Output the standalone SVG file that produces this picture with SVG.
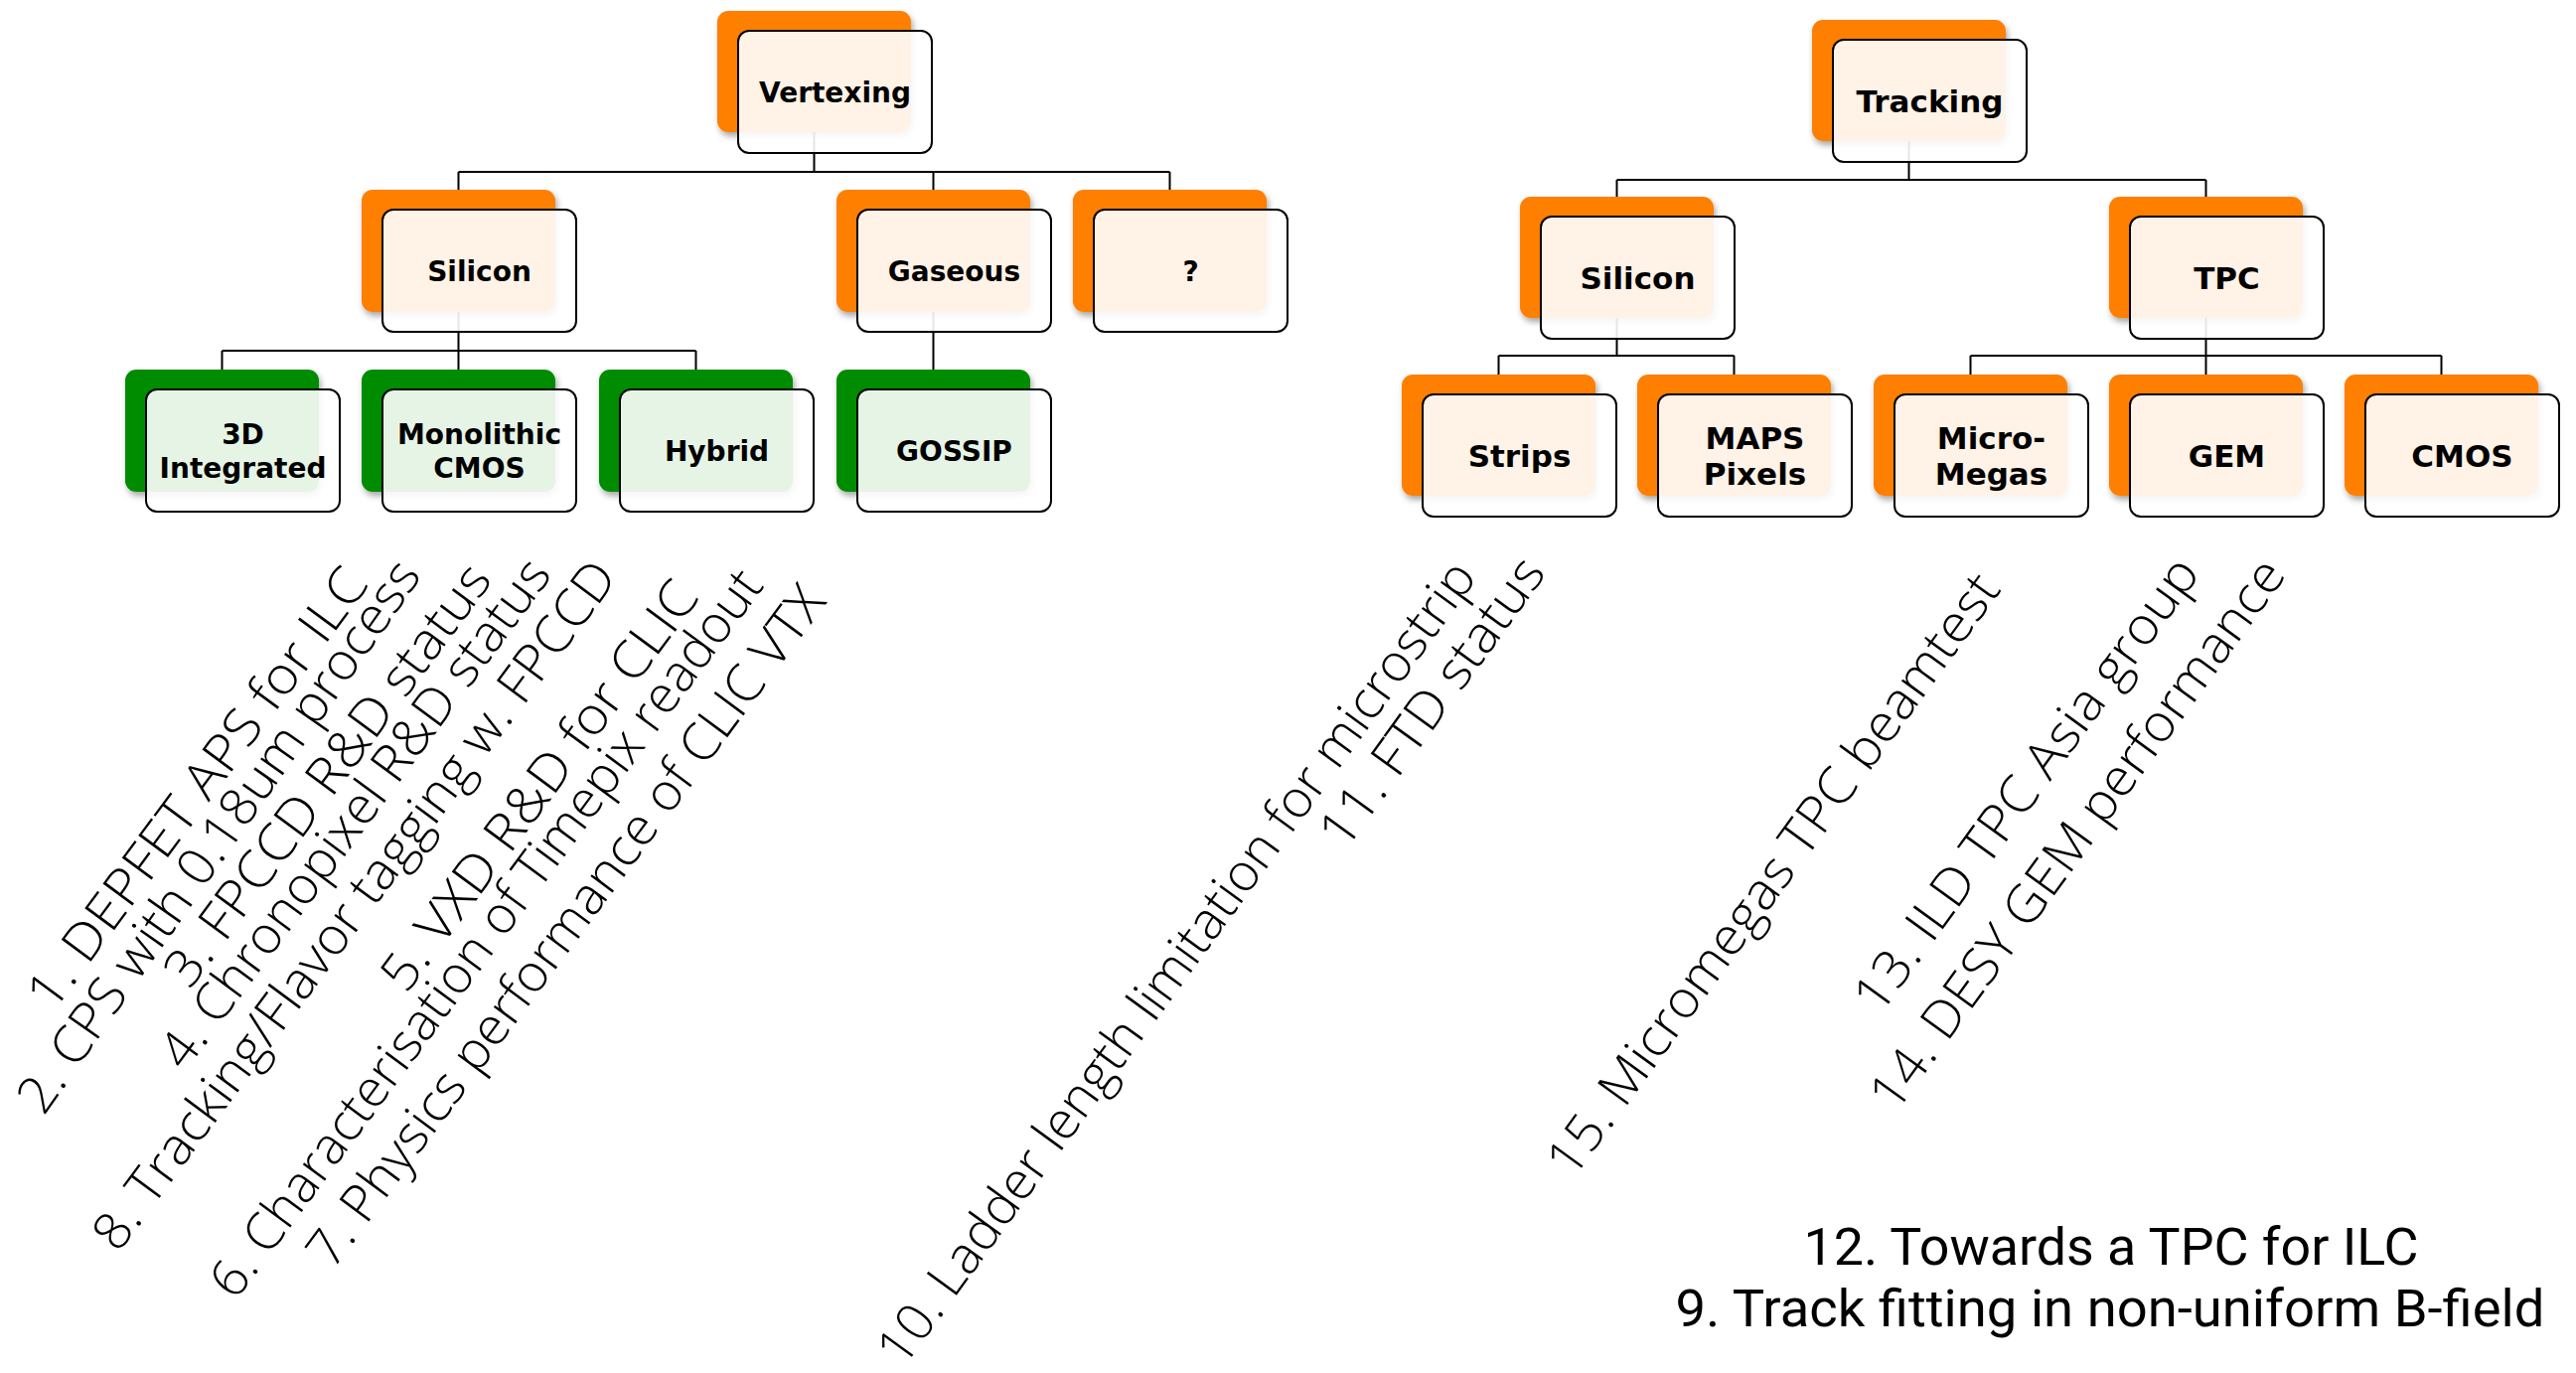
<svg xmlns="http://www.w3.org/2000/svg" width="2593" height="1382" viewBox="0 0 2593 1382">
<defs>
<style>
.bo{fill:#FF7F00}
.bg{fill:#008C00}
.front{fill:#FFFFFF;fill-opacity:0.9;stroke:#000;stroke-width:2}
.lbl{font-family:"DejaVu Sans","Verdana",sans-serif;font-weight:bold;font-size:28px;fill:#000;text-anchor:middle}
.lbr{font-family:"DejaVu Sans","Verdana",sans-serif;font-weight:bold;font-size:31px;fill:#000;text-anchor:middle}
.con{stroke:#000;stroke-width:2;fill:none}
.note{font-family:"Open Sans","Lato","Liberation Sans",sans-serif;font-weight:300;font-size:52px;fill:#000}
.note2{font-family:"Roboto","Liberation Sans",sans-serif;font-weight:400;font-size:51px;fill:#000;text-anchor:middle}
</style>
<filter id="sh" x="-10%" y="-10%" width="130%" height="130%">
<feDropShadow dx="2" dy="4" stdDeviation="3" flood-color="#000" flood-opacity="0.35"/>
</filter>
</defs>
<rect width="2593" height="1382" fill="#fff"/>

<g id="connectors">
<path class="con" d="M819.5 133V173M461.5 173H1177.5M461.5 173V191M939.5 173V191M1177.5 173V191"/>
<path class="con" d="M461.5 314V353M223.5 353H700.5M223.5 353V372M461.5 353V372M700.5 353V372M939.5 314V372"/>
<path class="con" d="M1921.5 142V181M1627.5 181H2220.5M1627.5 181V198M2220.5 181V198"/>
<path class="con" d="M1627.5 320V358M1508.5 358H1745.5M1508.5 358V377M1745.5 358V377"/>
<path class="con" d="M2220.5 320V358M1983.5 358H2457.5M1983.5 358V377M2220.5 358V377M2457.5 358V377"/>
</g>

<g id="vertexing"><rect class="bo" x="722" y="11" width="195" height="122" rx="11" filter="url(#sh)"/><rect class="front" x="743" y="31" width="195" height="123" rx="11"/><text class="lbl" x="840.5" y="103">Vertexing</text></g>
<g id="silicon-v"><rect class="bo" x="364" y="191" width="195" height="123" rx="11" filter="url(#sh)"/><rect class="front" x="385" y="211" width="195" height="123" rx="11"/><text class="lbl" x="482.5" y="283">Silicon</text></g>
<g id="gaseous"><rect class="bo" x="842" y="191" width="195" height="123" rx="11" filter="url(#sh)"/><rect class="front" x="863" y="211" width="195" height="123" rx="11"/><text class="lbl" x="960.5" y="283">Gaseous</text></g>
<g id="unknown"><rect class="bo" x="1080" y="191" width="195" height="123" rx="11" filter="url(#sh)"/><rect class="front" x="1101" y="211" width="195" height="123" rx="11"/><text class="lbl" x="1198.5" y="283">?</text></g>
<g id="3d-integrated"><rect class="bg" x="126" y="372" width="195" height="123" rx="11" filter="url(#sh)"/><rect class="front" x="147" y="392" width="195" height="123" rx="11"/><text class="lbl" x="244.5" y="446.5">3D</text><text class="lbl" x="244.5" y="480.5">Integrated</text></g>
<g id="monolithic-cmos"><rect class="bg" x="364" y="372" width="195" height="123" rx="11" filter="url(#sh)"/><rect class="front" x="385" y="392" width="195" height="123" rx="11"/><text class="lbl" x="482.5" y="446.5">Monolithic</text><text class="lbl" x="482.5" y="480.5">CMOS</text></g>
<g id="hybrid"><rect class="bg" x="603" y="372" width="195" height="123" rx="11" filter="url(#sh)"/><rect class="front" x="624" y="392" width="195" height="123" rx="11"/><text class="lbl" x="721.5" y="464">Hybrid</text></g>
<g id="gossip"><rect class="bg" x="842" y="372" width="195" height="123" rx="11" filter="url(#sh)"/><rect class="front" x="863" y="392" width="195" height="123" rx="11"/><text class="lbl" x="960.5" y="464">GOSSIP</text></g>

<g id="tracking"><rect class="bo" x="1824" y="20" width="195" height="122" rx="11" filter="url(#sh)"/><rect class="front" x="1845" y="40" width="195" height="123" rx="11"/><text class="lbr" x="1942.5" y="113">Tracking</text></g>
<g id="silicon-t"><rect class="bo" x="1530" y="198" width="195" height="122" rx="11" filter="url(#sh)"/><rect class="front" x="1551" y="218" width="195" height="123" rx="11"/><text class="lbr" x="1648.5" y="291">Silicon</text></g>
<g id="tpc"><rect class="bo" x="2123" y="198" width="195" height="122" rx="11" filter="url(#sh)"/><rect class="front" x="2144" y="218" width="195" height="123" rx="11"/><text class="lbr" x="2241.5" y="291">TPC</text></g>
<g id="strips"><rect class="bo" x="1411" y="377" width="195" height="122" rx="11" filter="url(#sh)"/><rect class="front" x="1432" y="397" width="195" height="123" rx="11"/><text class="lbr" x="1529.5" y="469.5">Strips</text></g>
<g id="maps-pixels"><rect class="bo" x="1648" y="377" width="195" height="122" rx="11" filter="url(#sh)"/><rect class="front" x="1669" y="397" width="195" height="123" rx="11"/><text class="lbr" x="1766.5" y="451.5">MAPS</text><text class="lbr" x="1766.5" y="487.5">Pixels</text></g>
<g id="micro-megas"><rect class="bo" x="1886" y="377" width="195" height="122" rx="11" filter="url(#sh)"/><rect class="front" x="1907" y="397" width="195" height="123" rx="11"/><text class="lbr" x="2004.5" y="451.5">Micro-</text><text class="lbr" x="2004.5" y="487.5">Megas</text></g>
<g id="gem"><rect class="bo" x="2123" y="377" width="195" height="122" rx="11" filter="url(#sh)"/><rect class="front" x="2144" y="397" width="195" height="123" rx="11"/><text class="lbr" x="2241.5" y="469.5">GEM</text></g>
<g id="cmos"><rect class="bo" x="2360" y="377" width="195" height="122" rx="11" filter="url(#sh)"/><rect class="front" x="2381" y="397" width="195" height="123" rx="11"/><text class="lbr" x="2478.5" y="469.5">CMOS</text></g>

<g id="notes">
<text class="note" transform="translate(53 1020) rotate(-53.5)" textLength="537" lengthAdjust="spacingAndGlyphs">1. DEPFET APS for ILC</text>
<text class="note" transform="translate(44 1124) rotate(-55)" textLength="665" lengthAdjust="spacingAndGlyphs">2. CPS with 0.18um process</text>
<text class="note" transform="translate(191 997) rotate(-53.5)" textLength="514" lengthAdjust="spacingAndGlyphs">3. FPCCD R&amp;D status</text>
<text class="note" transform="translate(186 1079.5) rotate(-53.5)" textLength="623" lengthAdjust="spacingAndGlyphs">4. Chronopixel R&amp;D status</text>
<text class="note" transform="translate(119 1262) rotate(-53.5)" textLength="847" lengthAdjust="spacingAndGlyphs">8. Tracking/Flavor tagging w. FPCCD</text>
<text class="note" transform="translate(409 1001.5) rotate(-53.5)" textLength="498" lengthAdjust="spacingAndGlyphs">5. VXD R&amp;D for CLIC</text>
<text class="note" transform="translate(237 1310) rotate(-53.5)" textLength="896" lengthAdjust="spacingAndGlyphs">6. Characterisation of Timepix readout</text>
<text class="note" transform="translate(334.5 1279.5) rotate(-53.5)" textLength="838" lengthAdjust="spacingAndGlyphs">7. Physics performance of CLIC VTX</text>
<text class="note" transform="translate(909 1378) rotate(-54)" textLength="985" lengthAdjust="spacingAndGlyphs">10. Ladder length limitation for microstrip</text>
<text class="note" transform="translate(1354 857) rotate(-54)" textLength="346" lengthAdjust="spacingAndGlyphs">11. FTD status</text>
<text class="note" transform="translate(1583 1188) rotate(-54)" textLength="735" lengthAdjust="spacingAndGlyphs">15. Micromegas TPC beamtest</text>
<text class="note" transform="translate(1892 1023) rotate(-54)" textLength="551" lengthAdjust="spacingAndGlyphs">13. ILD TPC Asia group</text>
<text class="note" transform="translate(1908 1121.5) rotate(-54)" textLength="671" lengthAdjust="spacingAndGlyphs">14. DESY GEM performance</text>
<text class="note2" x="2125" y="1273" textLength="619" lengthAdjust="spacingAndGlyphs">12. Towards a TPC for ILC</text>
<text class="note2" x="2124" y="1335" textLength="875" lengthAdjust="spacingAndGlyphs">9. Track fitting in non-uniform B-field</text>
</g>
</svg>
